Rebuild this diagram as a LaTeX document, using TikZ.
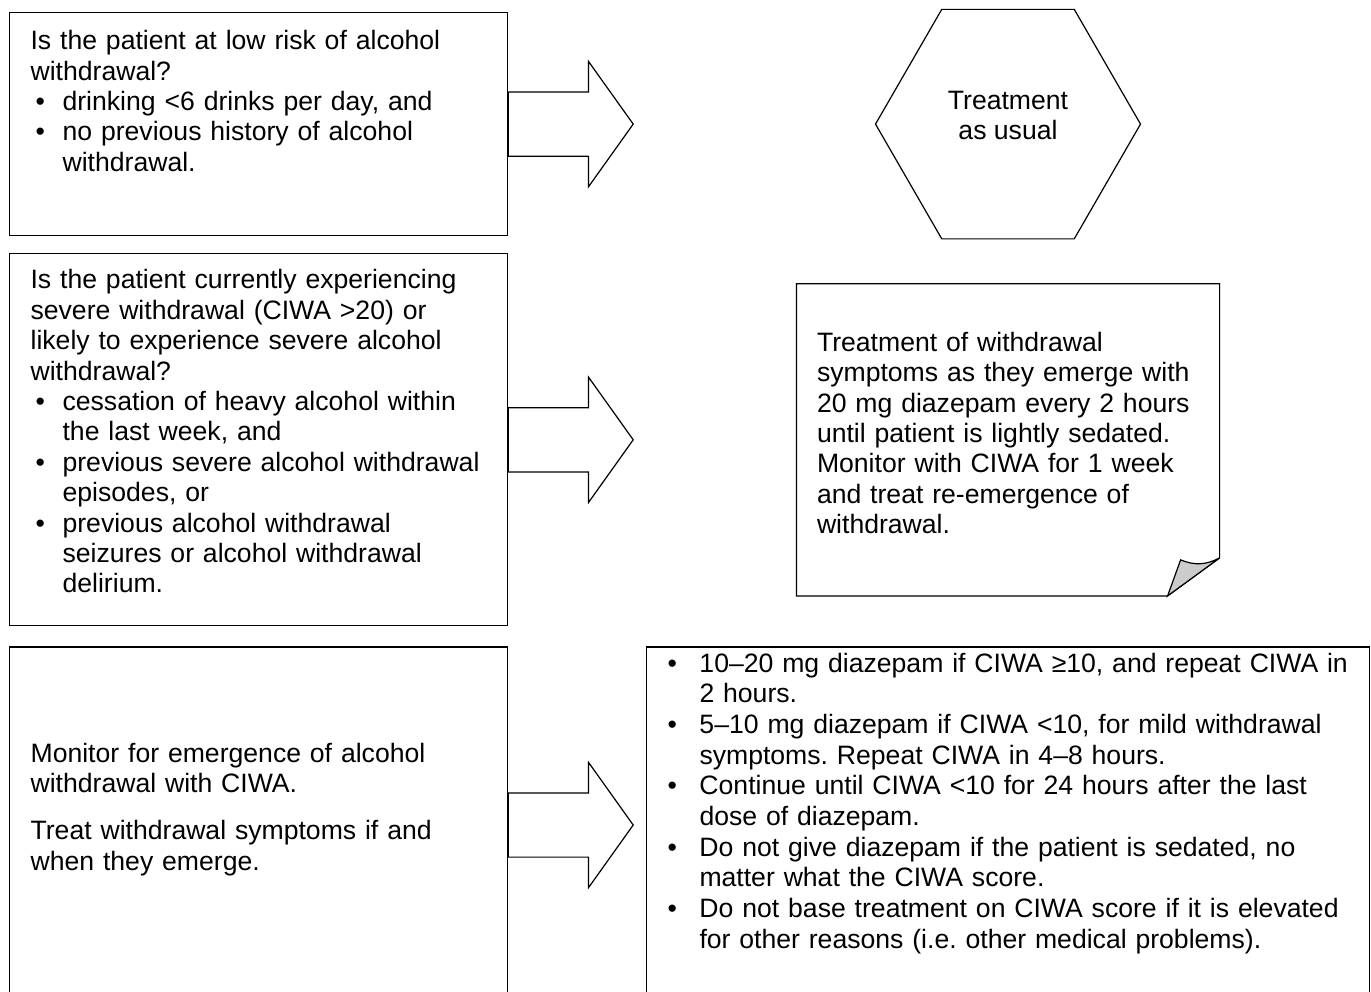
\documentclass[tikz,border=0pt]{standalone}
\usepackage{fontspec}
\setmainfont{Liberation Sans}
\usetikzlibrary{positioning, shapes.geometric, shapes.arrows}
\frenchspacing
\newcommand{\bul}{\makebox[16pt][l]{\hspace{2.5pt}\textbullet}}
\newcommand{\ind}{\hspace*{16pt}}
\newcommand{\rbul}{\makebox[18.5pt][l]{\hspace{2.5pt}\textbullet}}
\newcommand{\rind}{\hspace*{18.5pt}}

\begin{document}
\begin{tikzpicture}[
		line width=0.6pt,
		txt/.style={font=\fontsize{13.3pt}{15.2pt}\selectfont},
		qbox/.style={draw, txt, align=left, text width=228pt, inner xsep=10.5pt, inner ysep=0pt},
		rbox/.style={qbox, text width=345.5pt, inner xsep=8pt, font=\fontsize{13.3pt}{15.35pt}\selectfont},
		notebox/.style={txt, align=left, text width=191pt, inner xsep=10pt, inner ysep=0pt},
		hexa/.style={draw, txt, regular polygon, regular polygon sides=6, minimum size=132.5pt, inner sep=0pt, align=center},
		fatarrow/.style={draw, single arrow, single arrow head extend=15.25pt, single arrow tip angle=109, minimum height=62.5pt, inner xsep=0pt, inner ysep=15.75pt, outer sep=0pt},
		fold/.style={draw, fill=black!20}
		]
		
		\useasboundingbox (0,0) rectangle (685.5pt,-495.5pt);
		
		% ==========================================
		% LEFT COLUMN: questions
		% ==========================================
		\node[qbox, anchor=north west, text height=18.5pt, text depth=93pt] (q1) at (4.5pt,-6pt) {
			Is the patient at low risk of alcohol\\
			withdrawal?\\
			\bul drinking <6 drinks per day, and\\
			\bul no previous history of alcohol\\
			\ind withdrawal.
		};
		\node[qbox, below=8.5pt of q1, text height=17.5pt, text depth=168.5pt] (q2) {
			Is the patient currently experiencing\\
			severe withdrawal (CIWA >20) or\\
			likely to experience severe alcohol\\
			withdrawal?\\
			\bul cessation of heavy alcohol within\\
			\ind the last week, and\\
			\bul previous severe alcohol withdrawal\\
			\ind episodes, or\\
			\bul previous alcohol withdrawal\\
			\ind seizures or alcohol withdrawal\\
			\ind delirium.
		};
		\node[qbox, below=10pt of q2, text height=57.5pt, text depth=120.5pt] (q3) {
			Monitor for emergence of alcohol\\
			withdrawal with CIWA.\\[8.5pt]
			Treat withdrawal symptoms if and\\
			when they emerge.
		};
		
		% ==========================================
		% ARROWS
		% ==========================================
		\node[fatarrow, right=0pt of q1] (a1) {};
		\node[fatarrow, right=0pt of q2] (a2) {};
		\node[fatarrow, right=0pt of q3] (a3) {};
		
		% ==========================================
		% RIGHT COLUMN: what to do
		% ==========================================
		\coordinate (rcol) at (504pt,0);
		
		\node[hexa, text depth=8.5pt] (usual) at (rcol |- q1) {
			Treatment\\
			as usual
		};
		
		\node[notebox, text height=33.5pt, text depth=122pt] (dose) at (rcol |- q2) {
			Treatment of withdrawal\\
			symptoms as they emerge with\\
			20 mg diazepam every 2 hours\\
			until patient is lightly sedated.\\
			Monitor with CIWA for 1 week\\
			and treat re-emergence of\\
			withdrawal.
		};
		
		\node[rbox, text height=12.5pt, text depth=165.5pt] (steps) at (rcol |- q3) {
			\rbul 10–20 mg diazepam if CIWA ≥10, and repeat CIWA in\\
			\rind 2 hours.\\
			\rbul 5–10 mg diazepam if CIWA <10, for mild withdrawal\\
			\rind symptoms. Repeat CIWA in 4–8 hours.\\
			\rbul Continue until CIWA <10 for 24 hours after the last\\
			\rind dose of diazepam.\\
			\rbul Do not give diazepam if the patient is sedated, no\\
			\rind matter what the CIWA score.\\
			\rbul Do not base treatment on CIWA score if it is elevated\\
			\rind for other reasons (i.e. other medical problems).
		};
		
		% note outline with the turned-up corner
		\coordinate (foldA) at ([xshift=-26pt]dose.south east);
		\coordinate (foldB) at ([yshift=19pt]dose.south east);
		\coordinate (foldC) at ([xshift=-19.5pt, yshift=18pt]dose.south east);
		\draw (dose.north west) -- (dose.north east) -- (foldB) -- (foldA) -- (dose.south west) -- cycle;
		\draw[fold] (foldA) -- (foldC) to[bend right=25] (foldB) -- cycle;
		
	\end{tikzpicture}
\end{document}
